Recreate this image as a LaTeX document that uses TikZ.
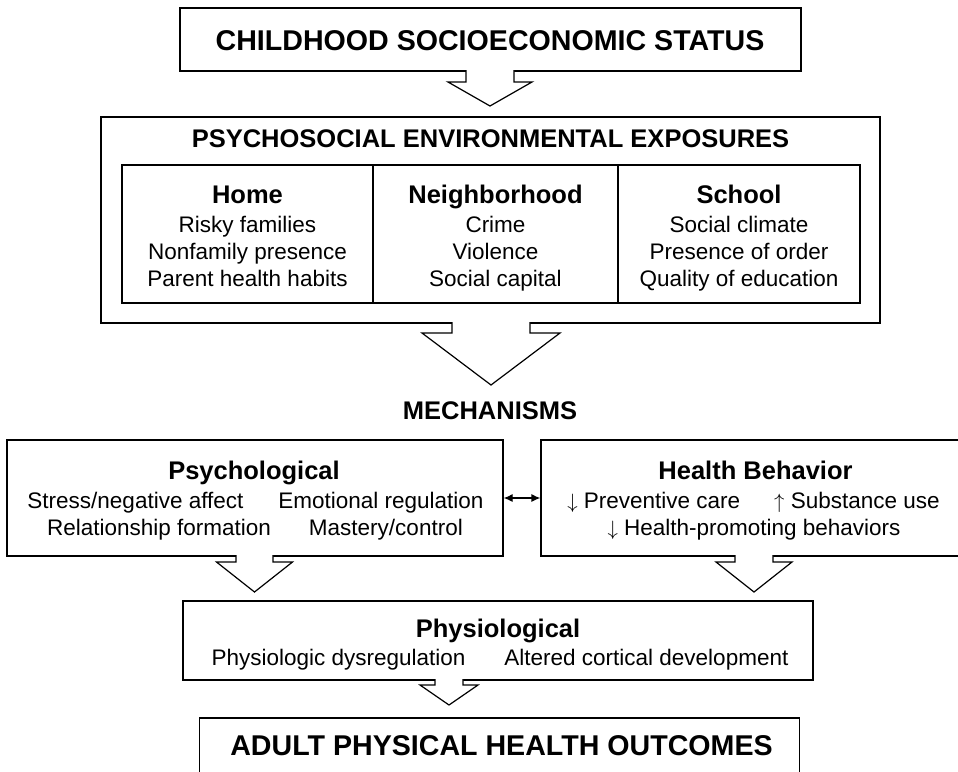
\documentclass[tikz,border=0pt]{standalone}
\usepackage{fontspec}
\setmainfont{Liberation Sans}
\usetikzlibrary{arrows.meta}

% hollow block arrow: x, top, notch, tip, half stem, half wing
\newcommand{\blockarrow}[6]{%
  \filldraw[fatarrow]
    (#1-#5,#2-1) -- (#1-#5,#3) -- (#1-#6,#3) -- (#1,#4)
    -- (#1+#6,#3) -- (#1+#5,#3) -- (#1+#5,#2-1);
}

\begin{document}
\begin{tikzpicture}
[
x = 1pt, y = -1pt,
>= {Latex[length=9pt,width=8pt]},
box/.style = {draw, line width=1.2pt, inner sep=0pt},
fatarrow/.style = {draw, line width=1.2pt, fill=white},
txt/.style = {anchor=base, inner sep=0pt, font=\fontsize{22.5}{27}\selectfont},
headtxt/.style = {anchor=base, inner sep=0pt, font=\fontsize{25.5}{30}\selectfont\bfseries},
bigtxt/.style = {anchor=base, inner sep=0pt, font=\fontsize{28.6}{34}\selectfont\bfseries},
]

\useasboundingbox (0,0) rectangle (958,771);
\clip (0,0) rectangle (958,771);

% top
\node [box, minimum width=621, minimum height=63] (ses) at (490.5,39.5) {};
\node [bigtxt] (sestxt) at (490,50) {CHILDHOOD SOCIOECONOMIC STATUS};

% exposures
\node [box, minimum width=779, minimum height=206] (expo) at (490.5,220) {};
\node [headtxt] (expotxt) at (490.5,147) {PSYCHOSOCIAL ENVIRONMENTAL EXPOSURES};

\node [box, minimum width=251, minimum height=138] (home) at (247.5,234) {};
\node [box, minimum width=245, minimum height=138] (hood) at (495.5,234) {};
\node [box, minimum width=242, minimum height=138] (school) at (739,234) {};

\node [headtxt] (hometxt) at (247.5,203) {Home};
\node [txt] (home1) at (247.5,232) {Risky families};
\node [txt] (home2) at (247.5,259) {Nonfamily presence};
\node [txt] (home3) at (247.5,286) {Parent health habits};

\node [headtxt] (hoodtxt) at (495.5,203) {Neighborhood};
\node [txt] (hood1) at (495.5,232) {Crime};
\node [txt] (hood2) at (495.5,259) {Violence};
\node [txt] (hood3) at (495.5,286) {Social capital};

\node [headtxt] (schooltxt) at (739,203) {School};
\node [txt] (school1) at (739,232) {Social climate};
\node [txt] (school2) at (739,259) {Presence of order};
\node [txt] (school3) at (739,286) {Quality of education};

\node [headtxt] (mech) at (490,419) {MECHANISMS};

% mechanisms
\node [box, minimum width=496, minimum height=116] (psych) at (255,498) {};
\node [headtxt] (psychtxt) at (254,479) {Psychological};
\node [txt] (psych1) at (255.5,508) {Stress/negative affect\hspace{35pt}Emotional regulation};
\node [txt] (psych2) at (255,535) {Relationship formation\hspace{38pt}Mastery/control};

\node [box, minimum width=428, minimum height=116] (health) at (755,498) {};
\node [headtxt] (healthtxt) at (755.5,479) {Health Behavior};
\node [txt] (health1) at (753.5,508) {$\downarrow$ Preventive care\hspace{34pt}$\uparrow$ Substance use};
\node [txt] (health2) at (754,535) {$\downarrow$ Health-promoting behaviors};

\draw [<->, line width=1.2pt] (psych) -- (health);

% physiology and outcome
\node [box, minimum width=630, minimum height=79] (physio) at (498,640.5) {};
\node [headtxt] (physiotxt) at (498,637) {Physiological};
\node [txt] (physio1) at (500,665) {Physiologic dysregulation\hspace{39pt}Altered cortical development};

\node [box, minimum width=600, minimum height=82] (adult) at (499.5,759) {};
\node [bigtxt] (adulttxt) at (501.5,755) {ADULT PHYSICAL HEALTH OUTCOMES};

% block arrows
\blockarrow{490}{71}{82}{106}{24}{42}
\blockarrow{491}{323}{333}{385}{39}{69}
\blockarrow{254.5}{556}{562}{592}{18.5}{38}
\blockarrow{754}{556}{562}{592}{19}{38}
\blockarrow{449}{680}{685}{705}{14}{29}
\end{tikzpicture}
\end{document}
